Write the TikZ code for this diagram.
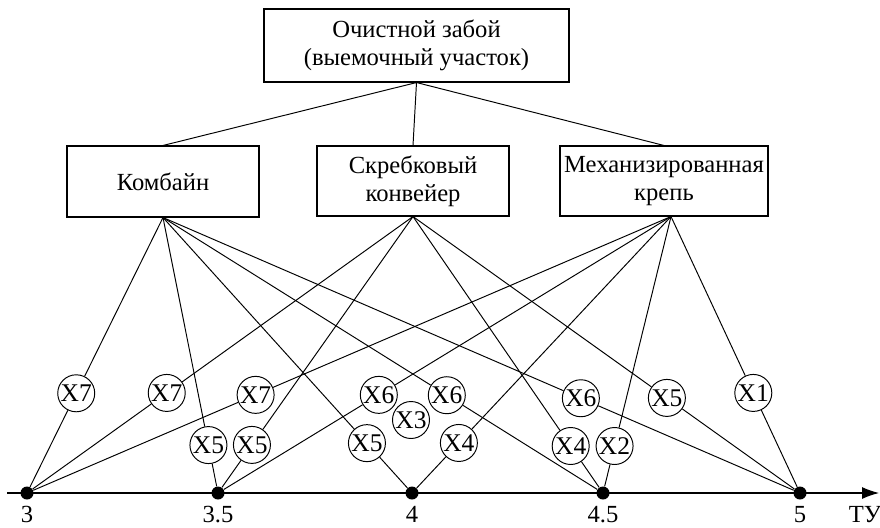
\documentclass[tikz,border=0pt]{standalone}
\usepackage{fontspec}
\setmainfont{Liberation Serif}
\usetikzlibrary{arrows.meta,calc,positioning}
\tikzset{
  bx/.style={rectangle,draw=black,line width=.6pt,align=center,inner sep=0pt},
  xc/.style={circle,draw=black,fill=white,minimum size=7.4mm,inner sep=0pt,line width=.55pt,
    font=\fontsize{14.5}{16}\selectfont},
  ndot/.style={circle,fill=black,minimum size=2.6mm,inner sep=0pt},
  lnk/.style={draw=black,line width=.55pt},
  ax/.style={-{Latex[length=3.4mm,width=2.4mm]},line width=.6pt},
  lb/.style={anchor=base},
}

\begin{document}
\begin{tikzpicture}[x=0.2mm,y=-0.2mm,font=\fontsize{14}{16}\selectfont]
\useasboundingbox (0,0) rectangle (880,527);
% ---- face and its three machines
\node[bx,minimum width=61mm,minimum height=14.6mm] (zb) at (416.5,45.5)
  {Очистной забой\\(выемочный участок)};
\node[bx,minimum width=38.4mm,minimum height=14.2mm] (kb) at (163,181.5) {Комбайн};
\node[bx,minimum width=38.4mm,minimum height=14mm] (sk) at (413,181) {Скребковый\\конвейер};
\node[bx,minimum width=41.6mm,minimum height=14mm] (mk) at (664,181) {Механизированная\\крепь};
\draw[lnk] (zb.south) -- (kb.north) (zb.south) -- (sk.north) (zb.south) -- (mk.north);
\coordinate (kA) at (kb.south);
\coordinate (sA) at (sk.south);
\coordinate (mA) at ([xshift=1.4mm]mk.south);
% ---- axis
\coordinate (a0) at (7,493); \coordinate (a1) at (879,493);
\draw[ax] (a0) -- (a1);
\node[ndot] (p1) at (27,493) {};  \node[ndot] (p2) at (218,493) {};
\node[ndot] (p3) at (412,493) {}; \node[ndot] (p4) at (603,493) {};
\node[ndot] (p5) at (800,493) {};
\node[lb] (l1) at (27,522) {3};   \node[lb] (l2) at (218,522) {3.5};
\node[lb] (l3) at (412,522) {4};  \node[lb] (l4) at (603,522) {4.5};
\node[lb] (l5) at (800,522) {5};  \node[lb] (l6) at (865,522) {ТУ};
% ---- factors on the links
\node[xc] (x1)  at ($(kA)!0.638!(p1)$) {X7};
\node[xc] (x2)  at ($(sA)!0.638!(p1)$) {X7};
\node[xc] (x3)  at ($(mA)!0.645!(p1)$) {X7};
\node[xc] (x4)  at ($(kA)!0.826!(p2)$) {X5};
\node[xc] (x5)  at ($(sA)!0.826!(p2)$) {X5};
\node[xc] (x6)  at ($(mA)!0.645!(p2)$) {X6};
\node[xc] (x7)  at ($(kA)!0.819!(p3)$) {X5};
\node[xc] (x8)  at ($(mA)!0.819!(p3)$) {X4};
\node[xc] (x9)  at ($(kA)!0.645!(p4)$) {X6};
\node[xc] (x10) at ($(sA)!0.830!(p4)$) {X4};
\node[xc] (x11) at ($(mA)!0.830!(p4)$) {X2};
\node[xc] (x12) at ($(kA)!0.656!(p5)$) {X6};
\node[xc] (x13) at ($(sA)!0.656!(p5)$) {X5};
\node[xc] (x14) at ($(mA)!0.638!(p5)$) {X1};
\node[xc] (x15) at (411,420) {X3};
\draw[lnk] (kA) -- (x1) -- (p1)  (sA) -- (x2) -- (p1)  (mA) -- (x3) -- (p1);
\draw[lnk] (kA) -- (x4) -- (p2)  (sA) -- (x5) -- (p2)  (mA) -- (x6) -- (p2);
\draw[lnk] (kA) -- (x7) -- (p3)  (mA) -- (x8) -- (p3);
\draw[lnk] (kA) -- (x9) -- (p4)  (sA) -- (x10) -- (p4) (mA) -- (x11) -- (p4);
\draw[lnk] (kA) -- (x12) -- (p5) (sA) -- (x13) -- (p5) (mA) -- (x14) -- (p5);
\end{tikzpicture}
\end{document}
